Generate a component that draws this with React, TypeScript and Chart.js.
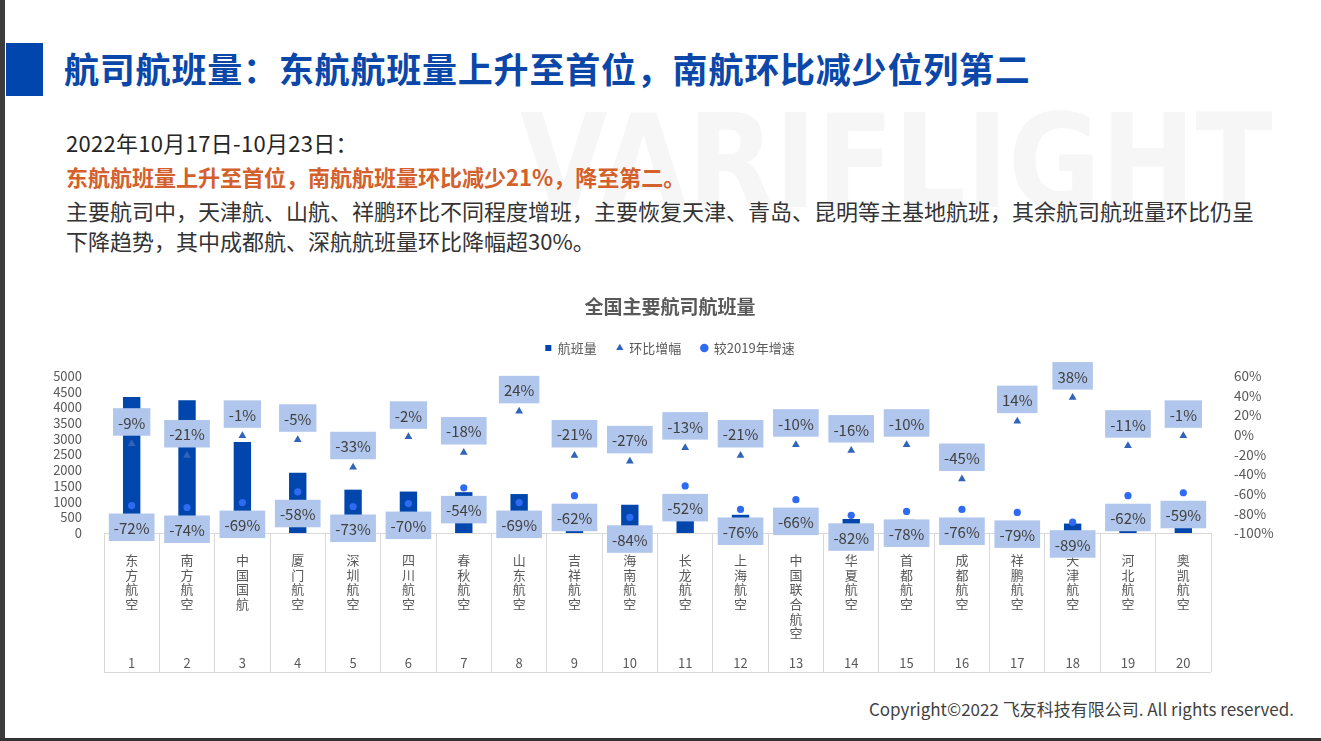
import React, { useEffect, useRef } from 'react';
import { Chart, registerables } from 'chart.js';

Chart.register(...registerables);

// ---------- data ----------
const airlines = [
  '东方航空', '南方航空', '中国国航', '厦门航空', '深圳航空',
  '四川航空', '春秋航空', '山东航空', '吉祥航空', '海南航空',
  '长龙航空', '上海航空', '中国联合航空', '华夏航空', '首都航空',
  '成都航空', '祥鹏航空', '天津航空', '河北航空', '奥凯航空',
];
const ranks = ['1', '2', '3', '4', '5', '6', '7', '8', '9', '10', '11', '12', '13', '14', '15', '16', '17', '18', '19', '20'];
const flights = [4330, 4230, 2900, 1920, 1380, 1320, 1300, 1240, 920, 900, 700, 580, 500, 445, 420, 380, 330, 300, 260, 230];
const momChange = [-9, -21, -1, -5, -33, -2, -18, 24, -21, -27, -13, -21, -10, -16, -10, -45, 14, 38, -11, -1];
const vs2019 = [-72, -74, -69, -58, -73, -70, -54, -69, -62, -84, -52, -76, -66, -82, -78, -76, -79, -89, -62, -59];
const seriesNames = ['航班量', '环比增幅', '较2019年增速'];
const leftAxis = { min: 0, max: 5000, step: 500 };
const rightAxis = { min: -100, max: 60, step: 20 };

const FONT = '"Noto Sans CJK SC", "Noto Sans", sans-serif';
const GRAY = '#595959';
const BAR_COLOR = '#0046AD';
const TRI_COLOR = '#3063BA';
const DOT_COLOR = '#2F6BF2';
const BOX_COLOR = '#B0C6EC';
const SEP_LEN = 139;

const labelBoxPlugin = {
  id: 'labelBoxes',
  afterDatasetsDraw(chart: any) {
    const ctx = chart.ctx;
    ctx.save();
    ctx.font = `15px ${FONT}`;
    ctx.textAlign = 'center';
    ctx.textBaseline = 'middle';
    const draw = (dsIndex: number, above: boolean) => {
      const meta = chart.getDatasetMeta(dsIndex);
      const data = chart.data.datasets[dsIndex].data;
      meta.data.forEach((pt: any, i: number) => {
        const text = `${data[i]}%`;
        const w = ctx.measureText(text).width + 10;
        const h = 27.5;
        const top = above ? pt.y - 8 - h : pt.y + 8;
        ctx.fillStyle = BOX_COLOR;
        ctx.fillRect(pt.x - w / 2, top, w, h);
        ctx.fillStyle = '#404040';
        ctx.fillText(text, pt.x, top + h / 2 + 1);
      });
    };
    draw(1, true);
    draw(2, false);
    ctx.restore();
  },
};

const bottomLinePlugin = {
  id: 'bottomLine',
  afterDraw(chart: any) {
    const xs = chart.scales.x;
    const { left, right } = chart.chartArea;
    const ctx = chart.ctx;
    const y = Math.round(xs.top + SEP_LEN) + 0.5;
    ctx.save();
    ctx.strokeStyle = '#D9D9D9';
    ctx.lineWidth = 1;
    ctx.beginPath();
    ctx.moveTo(left, y);
    ctx.lineTo(right, y);
    ctx.stroke();
    ctx.restore();
  },
};

function Txt(props: { left?: number; right?: number; top: number; size: number; lh: number; color: string; weight?: number; ls?: number; family?: string; transform?: string; children: React.ReactNode }) {
  const s: React.CSSProperties = {
    position: 'absolute',
    top: props.top,
    fontSize: props.size,
    lineHeight: `${props.lh}px`,
    color: props.color,
    fontWeight: props.weight || 400,
    letterSpacing: props.ls ? `${props.ls}px` : undefined,
    fontFamily: props.family || FONT,
    whiteSpace: 'nowrap',
    transform: props.transform,
    transformOrigin: 'left top',
  };
  if (props.left !== undefined) s.left = props.left;
  if (props.right !== undefined) s.right = props.right;
  return <div style={s}>{props.children}</div>;
}

export default function App() {
  const ref = useRef<HTMLCanvasElement>(null);

  useEffect(() => {
    Chart.defaults.font.family = FONT;
    const styles = ['rect', 'triangle', 'circle'];
    const chart = new Chart(ref.current as HTMLCanvasElement, {
      type: 'bar',
      data: {
        labels: airlines,
        datasets: [
          {
            type: 'bar',
            label: seriesNames[0],
            data: flights,
            backgroundColor: BAR_COLOR,
            yAxisID: 'y',
            order: 3,
            barPercentage: 0.314,
            categoryPercentage: 1,
          } as any,
          {
            type: 'line',
            label: seriesNames[1],
            data: momChange,
            yAxisID: 'y1',
            showLine: false,
            pointStyle: 'triangle',
            pointRadius: 4.5,
            pointBorderWidth: 0,
            pointBackgroundColor: TRI_COLOR,
            backgroundColor: TRI_COLOR,
            borderColor: TRI_COLOR,
            order: 2,
          } as any,
          {
            type: 'line',
            label: seriesNames[2],
            data: vs2019,
            yAxisID: 'y1',
            showLine: false,
            pointStyle: 'circle',
            pointRadius: 3.6,
            pointBorderWidth: 0,
            pointBackgroundColor: DOT_COLOR,
            backgroundColor: DOT_COLOR,
            borderColor: DOT_COLOR,
            order: 1,
          } as any,
        ],
      },
      options: {
        responsive: false,
        animation: false,
        devicePixelRatio: 1,
        layout: { padding: 0 },
        events: [],
        plugins: {
          title: {
            display: true,
            text: '全国主要航司航班量',
            color: GRAY,
            font: { size: 19, weight: 'bold', lineHeight: 1.2 },
            padding: { top: 5.6, bottom: 3.1 },
          },
          legend: {
            display: true,
            position: 'top',
            weight: 1800,
            labels: {
              usePointStyle: true,
              boxWidth: 6,
              boxHeight: 6,
              padding: 20,
              color: GRAY,
              font: { size: 13 },
              sort: (a: any, b: any) => a.datasetIndex - b.datasetIndex,
              generateLabels: (c: any) =>
                (Chart.defaults.plugins.legend.labels as any)
                  .generateLabels(c)
                  .map((it: any) => ({ ...it, pointStyle: styles[it.datasetIndex], lineWidth: 0, strokeStyle: 'transparent' })),
            },
          } as any,
          subtitle: {
            display: true,
            text: '',
            font: { size: 1, lineHeight: 1 },
            padding: { top: 0, bottom: 10.5 },
          },
          tooltip: { enabled: false },
        },
        scales: {
          x: {
            type: 'category',
            offset: true,
            grid: {
              display: true,
              offset: true,
              drawOnChartArea: false,
              drawTicks: true,
              tickLength: SEP_LEN,
              color: '#D9D9D9',
            },
            border: { display: true, color: '#D9D9D9' },
            ticks: {
              autoSkip: false,
              maxRotation: 0,
              minRotation: 0,
              padding: -119.35,
              color: GRAY,
              font: { size: 13, lineHeight: '14.7px' },
              callback: (_v: any, i: number) => {
                const chars = airlines[i].split('');
                const lines: string[] = [...chars];
                while (lines.length < 7) lines.push('');
                lines.push(ranks[i]);
                return lines;
              },
            },
            afterFit: (s: any) => {
              s.height = 147;
            },
          } as any,
          y: {
            position: 'left',
            min: leftAxis.min,
            max: leftAxis.max,
            grid: { display: false },
            border: { display: false },
            ticks: {
              stepSize: leftAxis.step,
              autoSkip: false,
              padding: 14,
              color: GRAY,
              font: { size: 13, lineHeight: 1 },
              callback: (v: any) => String(v),
            },
            afterFit: (s: any) => {
              s.width = 64;
            },
          } as any,
          y1: {
            position: 'right',
            min: rightAxis.min,
            max: rightAxis.max,
            grid: { display: false },
            border: { display: false },
            ticks: {
              stepSize: rightAxis.step,
              autoSkip: false,
              padding: 15,
              color: GRAY,
              font: { size: 13.5, lineHeight: 1 },
              callback: (v: any) => `${v}%`,
            },
            afterFit: (s: any) => {
              s.width = 89;
            },
          } as any,
        },
      },
      plugins: [labelBoxPlugin, bottomLinePlugin],
    });
    return () => chart.destroy();
  }, []);

  return (
    <div style={{ position: 'fixed', left: 0, top: 0, width: 1321, height: 741, background: '#fff', overflow: 'hidden' }}>
      {/* watermark */}
      <Txt left={520} top={97} size={130} lh={130} color="#F6F6F6" weight={700} family='"DejaVu Sans", sans-serif' transform="scaleX(0.87)">VARIFLIGHT</Txt>
      {/* frame */}
      <div style={{ position: 'absolute', left: 0, top: 0, width: 5, height: 741, background: '#3C3C3C' }} />
      <div style={{ position: 'absolute', left: 0, top: 738, width: 1321, height: 3, background: '#333333' }} />
      <div style={{ position: 'absolute', left: 6, top: 43, width: 37, height: 53, background: '#0046AD' }} />
      <Txt left={64} top={46} size={35} lh={44} color="#0A47A8" weight={700} ls={0.8}>
        航司航班量：东航航班量上升至首位，南航环比减少位列第二
      </Txt>
      <Txt left={66} top={126.8} size={22} lh={30} color="#262626" ls={0.3}>2022年10月17日-10月23日：</Txt>
      <Txt left={66} top={160.8} size={22} lh={30} color="#D4602B" weight={700}>
        东航航班量上升至首位，南航航班量环比减少21%，降至第二。
      </Txt>
      <Txt left={66} top={194.8} size={22} lh={30} color="#333333">
        主要航司中，天津航、山航、祥鹏环比不同程度增班，主要恢复天津、青岛、昆明等主基地航班，其余航司航班量环比仍呈
      </Txt>
      <Txt left={66} top={224.8} size={22} lh={30} color="#333333">
        下降趋势，其中成都航、深航航班量环比降幅超30%。
      </Txt>
      <canvas ref={ref} width={1260} height={390} style={{ position: 'absolute', left: 40, top: 290, width: 1260, height: 390 }} />
      <Txt right={27} top={697} size={17} lh={24} color="#3F3F3F">
        Copyright©2022 飞友科技有限公司. All rights reserved.
      </Txt>
    </div>
  );
}
